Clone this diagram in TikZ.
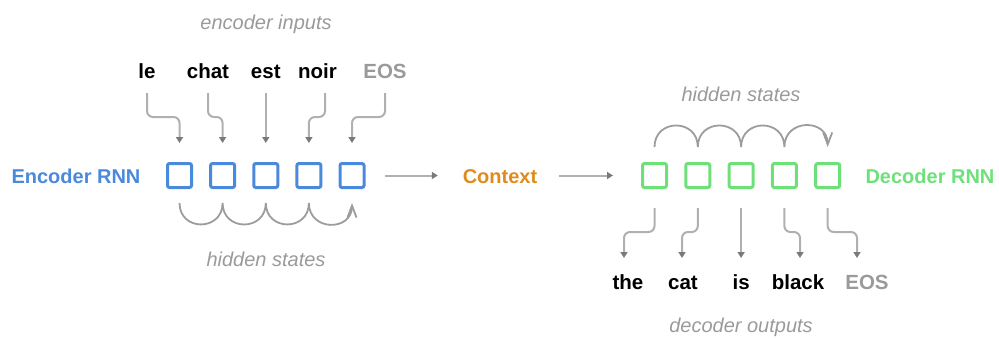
\documentclass[tikz,border=0pt]{standalone}
\usepackage{fontspec}
\setmainfont{Liberation Sans}
\usetikzlibrary{arrows.meta}
\definecolor{encblue}{HTML}{4A89DC}
\definecolor{decgreen}{HTML}{6EE07A}
\definecolor{ctxorange}{HTML}{E08B1C}
\definecolor{lbl}{HTML}{9A9A9A}
\definecolor{arrline}{HTML}{B0B0B0}
\definecolor{arrhead}{HTML}{7A7A7A}
\definecolor{arcgray}{HTML}{9C9C9C}
\begin{document}
\begin{tikzpicture}[x=1pt,y=1pt,
  every node/.style={inner sep=0pt, outer sep=0pt},
  word/.style={font=\fontsize{20.5}{24}\selectfont\bfseries, text height=15pt, text depth=4pt, anchor=base},
  eosword/.style={word, text=lbl},
  caption/.style={font=\fontsize{20}{24}\selectfont\itshape, text=lbl, anchor=base},
  rnnlabel/.style={font=\fontsize{20}{24}\selectfont\bfseries, anchor=base},
  cell/.style={draw, line width=3pt, minimum size=24pt, rounded corners=2pt},
  enccell/.style={cell, draw=encblue},
  deccell/.style={cell, draw=decgreen},
  arr/.style={draw=arrline, line width=2pt, rounded corners=6pt, -{Triangle[length=6pt,width=7pt,color=arrhead]}},
  hs/.style={draw=arcgray, line width=1.8pt, -{Straight Barb[length=12pt,width=9pt]}},
  hsarc/.style={looseness=1.7},
]
\useasboundingbox (0,0) rectangle (999,-338);

% encoder side
\node[caption] (encin) at (266,-29) {encoder inputs};
\node[word] (w1) at (147,-78) {le};
\node[word] (w2) at (208,-78) {chat};
\node[word] (w3) at (265.8,-78) {est};
\node[word] (w4) at (317.5,-78) {noir};
\node[eosword] (w5) at (385,-78) {EOS};

\node[rnnlabel, text=encblue] (encl) at (76,-183) {Encoder RNN};
\node[enccell] (e1) at (179.5,-175.5) {};
\node[enccell] (e2) at (222.6,-175.5) {};
\node[enccell] (e3) at (265.8,-175.5) {};
\node[enccell] (e4) at (308.9,-175.5) {};
\node[enccell] (e5) at (352,-175.5) {};
\node[caption] (enchs) at (266,-266) {hidden states};

\node[rnnlabel, text=ctxorange] (ctx) at (500,-183) {Context};

% decoder side
\node[caption] (dechs) at (741,-101) {hidden states};
\node[deccell] (d1) at (654.5,-175.5) {};
\node[deccell] (d2) at (697.8,-175.5) {};
\node[deccell] (d3) at (741.1,-175.5) {};
\node[deccell] (d4) at (784.4,-175.5) {};
\node[deccell] (d5) at (827.7,-175.5) {};
\node[rnnlabel, text=decgreen] (decl) at (930,-183) {Decoder RNN};

\node[word] (o1) at (628,-289) {the};
\node[word] (o2) at (683,-289) {cat};
\node[word] (o3) at (741.1,-289) {is};
\node[word] (o4) at (798,-289) {black};
\node[eosword] (o5) at (867,-289) {EOS};
\node[caption] (decout) at (741,-332) {decoder outputs};

% input arrows
\draw[arr] ([yshift=-11pt]w1.south) -- ++(0,-24) -| ([yshift=20.5pt]e1.north);
\draw[arr] ([yshift=-11pt]w2.south) -- ++(0,-24) -| ([yshift=20.5pt]e2.north);
\draw[arr] ([yshift=-11pt]w3.south) -- ([yshift=20.5pt]e3.north);
\draw[arr] ([xshift=7.5pt,yshift=-11pt]w4.south) -- ++(0,-24) -| ([yshift=20.5pt]e4.north);
\draw[arr] ([yshift=-11pt]w5.south) -- ++(0,-24) -| ([yshift=20.5pt]e5.north);

% context arrows
\draw[arr] ([xshift=21pt]e5.east) -- ([xshift=-25pt]ctx.west |- e5.east);
\draw[arr] ([xshift=22pt]ctx.east |- d1.west) -- ([xshift=-29.5pt]d1.west);

% output arrows
\draw[arr] ([yshift=-20.5pt]d1.south) -- ++(0,-24) -| ([xshift=-4pt,yshift=16pt]o1.north);
\draw[arr] ([yshift=-20.5pt]d2.south) -- ++(0,-24) -| ([xshift=-1pt,yshift=16pt]o2.north);
\draw[arr] ([yshift=-20.5pt]d3.south) -- ([yshift=16pt]o3.north);
\draw[arr] ([yshift=-20.5pt]d4.south) -- ++(0,-24) -| ([xshift=2pt,yshift=16pt]o4.north);
\draw[arr] ([yshift=-20.5pt]d5.south) -- ++(0,-24) -| ([xshift=-10pt,yshift=16pt]o5.north);

% hidden state arcs
\foreach \i in {1,...,5} {
  \coordinate (ha\i) at ([yshift=-15.5pt]e\i.south);
  \coordinate (hd\i) at ([yshift=16.5pt]d\i.north);
}
\draw[hs] (ha1) to[out=-90,in=-90,hsarc] (ha2) to[out=-90,in=-90,hsarc] (ha3)
  to[out=-90,in=-90,hsarc] (ha4) to[out=-90,in=-90,hsarc] (ha5);
\draw[hs] (hd1) to[out=90,in=90,hsarc] (hd2) to[out=90,in=90,hsarc] (hd3)
  to[out=90,in=90,hsarc] (hd4) to[out=90,in=90,hsarc] (hd5);
\end{tikzpicture}
\end{document}
